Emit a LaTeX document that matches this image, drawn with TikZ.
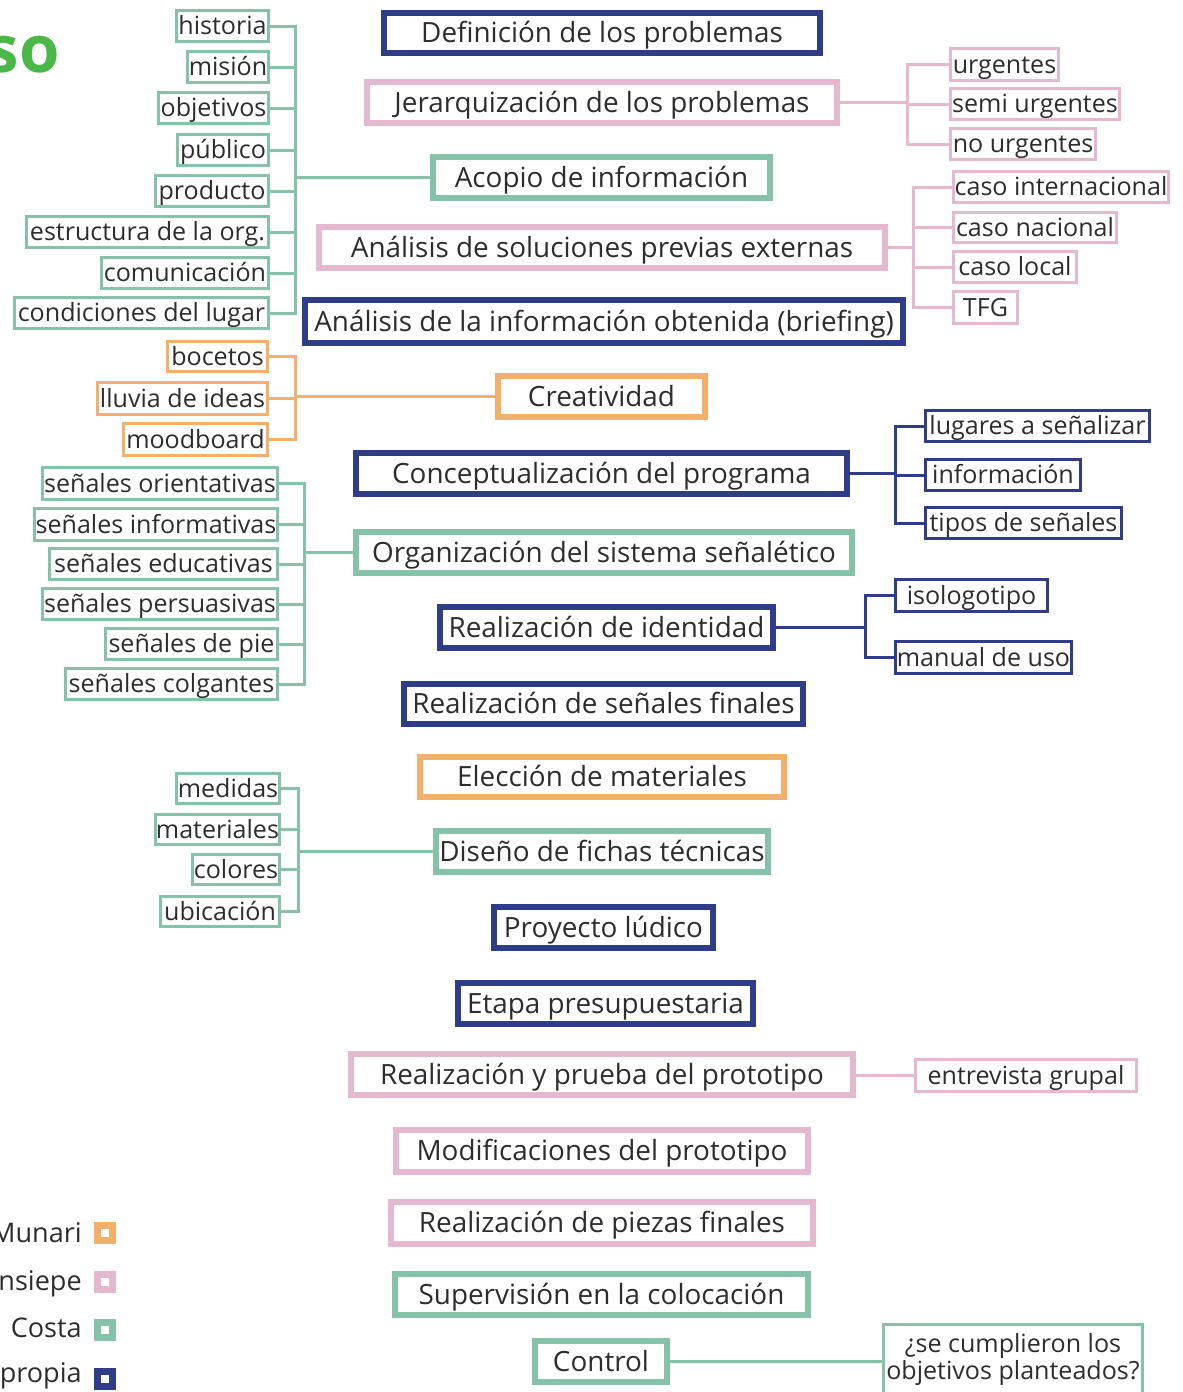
\documentclass[tikz,border=0pt]{standalone}
\usepackage{fontspec}
\setmainfont{Open Sans}
\definecolor{navyc}{HTML}{2F3D88}
\definecolor{pinkc}{HTML}{E4B8CE}
\definecolor{tealc}{HTML}{86C2AA}
\definecolor{orangec}{HTML}{F4AF6A}
\definecolor{txt}{HTML}{2D2D2D}
\definecolor{greenc}{HTML}{4BB749}
\tikzset{
  mainb/.style={draw=#1, line width=4.5pt, fill=white, inner sep=0pt, text=txt,
    font=\fontsize{20.9}{24}\selectfont, text height=14.9pt, text depth=0pt},
  subb/.style={draw=#1, line width=2.5pt, fill=white, inner sep=0pt, text=txt,
    font=\fontsize{18.8}{22}\selectfont, text height=13.4pt, text depth=0pt},
  conn/.style={draw=#1, line width=2.25pt},
  legtext/.style={text=txt, font=\fontsize{20.3}{22}\selectfont, inner sep=0pt, anchor=base east},
  legsq/.style={draw=#1, fill=white, line width=5.25pt, minimum size=11.25pt, inner sep=0pt},
}
\newcommand\MB[7]{\node[mainb=#6, minimum width={(#4-#2-6)*0.75pt}, minimum height={(#5-#3-6)*0.75pt}] (#1) at ({(#2+#4)/2},{(#3+#5)/2}) {#7};}
\newcommand\SB[7]{\node[subb=#6, minimum width={(#4-#2-3)*0.75pt}, minimum height={(#5-#3-3)*0.75pt}] (#1) at ({(#2+#4)/2},{(#3+#5)/2}) {#7};}
\begin{document}
\begin{tikzpicture}[x=0.75pt,y=-0.75pt]
\useasboundingbox (0,0) rectangle (1182,1392);
\clip (0,0) rectangle (1182,1392);

% title fragment
\node[anchor=base east, inner sep=0pt, text=greenc, font=\bfseries\fontsize{49}{49}\selectfont] (so) at (60,72) {so};

% main column
\MB{m1}{381}{10}{823}{56}{navyc}{Definición de los problemas}
\MB{m2}{364}{79}{840}{126}{pinkc}{Jerarquización de los problemas}
\MB{m3}{430}{154}{773}{201}{tealc}{Acopio de información}
\MB{m4}{316}{224}{888}{271}{pinkc}{Análisis de soluciones previas externas}
\MB{m5}{302}{297}{906}{346}{navyc}{Análisis de la información obtenida (briefing)}
\MB{m6}{495}{373}{708}{420}{orangec}{Creatividad}
\MB{m7}{353}{450}{850}{497}{navyc}{Conceptualización del programa}
\MB{m8}{353}{529}{855}{576}{tealc}{Organización del sistema señalético}
\MB{m9}{437}{604}{776}{651}{navyc}{Realización de identidad}
\MB{m10}{401}{681}{806}{727}{navyc}{Realización de señales finales}
\MB{m11}{417}{754}{787}{800}{orangec}{Elección de materiales}
\MB{m12}{433}{828}{771}{875}{tealc}{Diseño de fichas técnicas}
\MB{m13}{491}{904}{716}{951}{navyc}{Proyecto lúdico}
\MB{m14}{455}{980}{756}{1027}{navyc}{Etapa presupuestaria}
\MB{m15}{348}{1051}{856}{1098}{pinkc}{Realización y prueba del prototipo}
\MB{m16}{393}{1127}{811}{1175}{pinkc}{Modificaciones del prototipo}
\MB{m17}{388}{1199}{816}{1247}{pinkc}{Realización de piezas finales}
\MB{m18}{392}{1271}{811}{1318}{tealc}{Supervisión en la colocación}
\MB{m19}{532}{1338}{670}{1385}{tealc}{Control}

% left teal group A
\SB{a1}{175}{9}{270}{43}{tealc}{historia}
\SB{a2}{186}{50}{270}{84}{tealc}{misión}
\SB{a3}{157}{91}{270}{125}{tealc}{objetivos}
\SB{a4}{176}{133}{270}{167}{tealc}{público}
\SB{a5}{154}{174}{270}{208}{tealc}{producto}
\SB{a6}{25}{215}{270}{249}{tealc}{estructura de la org.}
\SB{a7}{100}{256}{270}{290}{tealc}{comunicación}
\SB{a8}{13}{296}{270}{330}{tealc}{condiciones del lugar}

% left orange group
\SB{o1}{166}{340}{269}{373}{orangec}{bocetos}
\SB{o2}{96}{381}{269}{416}{orangec}{lluvia de ideas}
\SB{o3}{122}{422}{269}{457}{orangec}{moodboard}

% left teal group B
\SB{b1}{41}{466}{279}{501}{tealc}{señales orientativas}
\SB{b2}{33}{507}{279}{542}{tealc}{señales informativas}
\SB{b3}{48}{547}{279}{581}{tealc}{señales educativas}
\SB{b4}{41}{587}{279}{621}{tealc}{señales persuasivas}
\SB{b5}{104}{627}{279}{661}{tealc}{señales de pie}
\SB{b6}{64}{667}{279}{701}{tealc}{señales colgantes}

% left teal group C
\SB{c1}{175}{772}{281}{805}{tealc}{medidas}
\SB{c2}{154}{813}{281}{846}{tealc}{materiales}
\SB{c3}{191}{853}{281}{886}{tealc}{colores}
\SB{c4}{159}{895}{281}{928}{tealc}{ubicación}

% right pink group A
\SB{p1}{949}{47}{1060}{82}{pinkc}{urgentes}
\SB{p2}{949}{87}{1121}{121}{pinkc}{semi urgentes}
\SB{p3}{949}{127}{1097}{161}{pinkc}{no urgentes}

% right pink group B
\SB{q1}{952}{170}{1170}{204}{pinkc}{caso internacional}
\SB{q2}{952}{211}{1118}{244}{pinkc}{caso nacional}
\SB{q3}{952}{250}{1078}{284}{pinkc}{caso local}
\SB{q4}{952}{290}{1019}{325}{pinkc}{TFG}

% right navy group A
\SB{n1}{924}{409}{1151}{443}{navyc}{lugares a señalizar}
\SB{n2}{924}{458}{1082}{492}{navyc}{información}
\SB{n3}{924}{506}{1123}{540}{navyc}{tipos de señales}

% right navy group B
\SB{r1}{894}{578}{1049}{613}{navyc}{isologotipo}
\SB{r2}{894}{640}{1073}{675}{navyc}{manual de uso}

% bottom right
\SB{e1}{914}{1058}{1138}{1093}{pinkc}{entrevista grupal}
\SB{k1}{882}{1323}{1144}{1402}{tealc}{}
\node[text=txt, font=\fontsize{18.8}{22}\selectfont, inner sep=0pt, anchor=base] (k1a) at (1013,1352) {¿se cumplieron los};
\node[text=txt, font=\fontsize{18.8}{22}\selectfont, inner sep=0pt, anchor=base] (k1b) at (1013,1379) {objetivos planteados?};

% connectors
\coordinate (busA) at (295,0);
\draw[conn=tealc] (a1.east) -- (a1.east -| busA) -- (a8.east -| busA) -- (a8.east);
\foreach \n in {a2,a3,a4,a5,a6,a7} \draw[conn=tealc] (\n.east) -- (\n.east -| busA);
\draw[conn=tealc] (busA |- m3.west) -- (m3.west);

\coordinate (busO) at (295,0);
\draw[conn=orangec] (o1.east) -- (o1.east -| busO) -- (o3.east -| busO) -- (o3.east);
\draw[conn=orangec] (o2.east) -- (o2.east -| busO);
\draw[conn=orangec] (busO |- m6.west) -- (m6.west);

\coordinate (busB) at (304,0);
\draw[conn=tealc] (b1.east) -- (b1.east -| busB) -- (b6.east -| busB) -- (b6.east);
\foreach \n in {b2,b3,b4,b5} \draw[conn=tealc] (\n.east) -- (\n.east -| busB);
\draw[conn=tealc] (busB |- m8.west) -- (m8.west);

\coordinate (busC) at (298,0);
\draw[conn=tealc] (c1.east) -- (c1.east -| busC) -- (c4.east -| busC) -- (c4.east);
\foreach \n in {c2,c3} \draw[conn=tealc] (\n.east) -- (\n.east -| busC);
\draw[conn=tealc] (busC |- m12.west) -- (m12.west);

\coordinate (busP) at (907,0);
\draw[conn=pinkc] (p1.west) -- (p1.west -| busP) -- (p3.west -| busP) -- (p3.west);
\draw[conn=pinkc] (p2.west) -- (p2.west -| busP);
\draw[conn=pinkc] (m2.east) -- (m2.east -| busP);

\coordinate (busQ) at (913,0);
\draw[conn=pinkc] (q1.west) -- (q1.west -| busQ) -- (q4.west -| busQ) -- (q4.west);
\foreach \n in {q2,q3} \draw[conn=pinkc] (\n.west) -- (\n.west -| busQ);
\draw[conn=pinkc] (m4.east) -- (m4.east -| busQ);

\coordinate (busN) at (895,0);
\draw[conn=navyc] (n1.west) -- (n1.west -| busN) -- (n3.west -| busN) -- (n3.west);
\draw[conn=navyc] (n2.west) -- (n2.west -| busN);
\draw[conn=navyc] (m7.east) -- (m7.east -| busN);

\coordinate (busR) at (865,0);
\draw[conn=navyc] (r1.west) -- (r1.west -| busR) -- (r2.west -| busR) -- (r2.west);
\draw[conn=navyc] (m9.east) -- (m9.east -| busR);

\draw[conn=pinkc] (e1.west -| m15.east) -- (e1.west);
\draw[conn=tealc] (m19.east) -- (m19.east -| k1.west);

% legend
\node[legtext] (l1) at (82,1242) {Munari};
\node[legtext] (l2) at (82,1290) {nsiepe};
\node[legtext] (l3) at (82,1337) {Costa};
\node[legtext] (l4) at (82,1382) {propia};
\node[legsq=orangec] (s1) at (105,1233) {};
\node[legsq=pinkc] (s2) at (105,1282) {};
\node[legsq=tealc] (s3) at (105,1330) {};
\node[legsq=navyc] (s4) at (105,1379) {};
\end{tikzpicture}
\end{document}
